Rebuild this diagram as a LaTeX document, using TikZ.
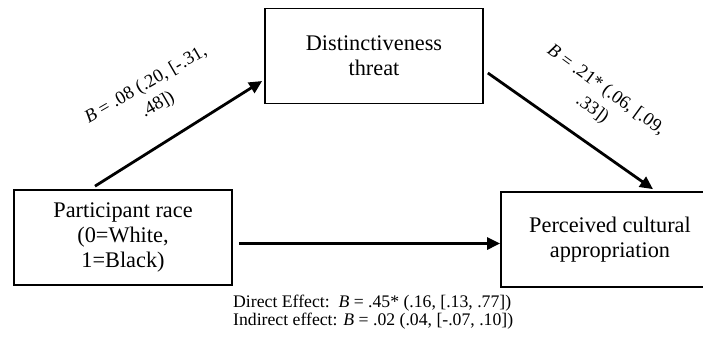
\documentclass[tikz,border=0pt]{standalone}
\usepackage{fontspec}
\setmainfont{Liberation Serif}
\usetikzlibrary{arrows.meta}
\begin{document}
\begin{tikzpicture}[x=1pt,y=-1pt,
  boxnode/.style={draw,line width=1.7pt,minimum width=218pt,minimum height=95pt,inner sep=0pt,align=center,font=\fontsize{22.3}{25}\selectfont},
  arr/.style={line width=2.8pt,-{Triangle[length=13pt,width=12pt]}},
  lab/.style={align=center,inner sep=0pt,font=\fontsize{18.5}{23.5}\selectfont},
  note/.style={anchor=base west,inner sep=0pt,font=\fontsize{17.7}{19}\selectfont}]
\useasboundingbox (0,0) rectangle (703,346);
\node[boxnode] (L) at (123,237.5) {Participant race\\(0=White,\\1=Black)};
\node[boxnode] (T) at (374,56) {Distinctiveness\\threat};
\node[boxnode] (R) at (610,239.5) {Perceived cultural\\appropriation};
\draw[arr] ([xshift=-28pt,yshift=3pt]L.north) -- ([xshift=-2pt,yshift=-25pt]T.west);
\draw[arr] ([xshift=4pt,yshift=-17pt]T.east) -- ([xshift=43pt,yshift=2pt]R.north);
\draw[arr] ([xshift=6pt,yshift=-6pt]L.east) -- ([yshift=-4pt]R.west);
\node[lab,rotate=30] (LA) at (152,95) {\textit{B} = .08 (.20, [-.31,\\.48])};
\node[lab,rotate=-36] (RA) at (599,100) {\textit{B} = .21* (.06, [.09,\\.33])};
\node[note] (D1) at (233,307) {Direct Effect:\ \ \textit{B} = .45* (.16, [.13, .77])};
\node[note] (D2) at (233,325) {Indirect effect: \textit{B} = .02 (.04, [-.07, .10])};
\end{tikzpicture}
\end{document}
